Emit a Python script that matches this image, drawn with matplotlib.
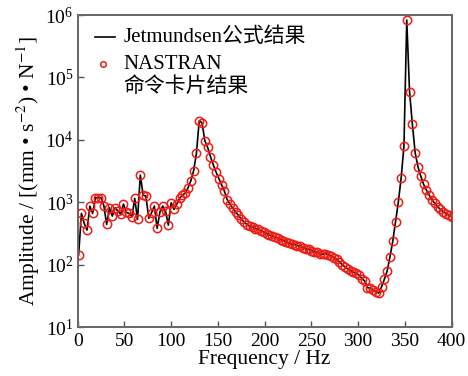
import matplotlib
matplotlib.use('Agg')
import matplotlib.pyplot as plt
import numpy as np

plt.rcParams['font.family'] = ['Liberation Serif', 'Noto Sans CJK SC']
plt.rcParams['mathtext.fontset'] = 'stix'

# frequency grid (Hz), 3 Hz step
freq = np.arange(1, 401, 3)

# amplitude, (mm*s^-2)/N
amp = [
    143, 663, 459, 359, 868, 663, 1180, 1180, 1180, 880,
    442, 817, 601, 817, 723, 647, 935, 689, 663, 586,
    1153, 532, 2730, 1303, 1256, 552, 679, 868, 382, 705,
    868, 723, 431, 982, 769, 935, 1153, 1303, 1400, 1700,
    2200, 3200, 6080, 20200, 18800, 9690, 7590, 5400, 4000, 3050,
    2400, 1900, 1500, 1100, 930, 800, 700, 615, 540, 480,
    440, 415, 398, 380, 368, 350, 335, 315, 300, 288,
    275, 265, 252, 243, 232, 222, 215, 210, 203, 196,
    188, 180, 176, 168, 162, 158, 150, 147, 150, 145,
    140, 130, 122, 111, 100, 92, 86, 80, 76, 73,
    68, 60, 55, 43, 42, 40, 37, 35, 44, 58,
    79, 132, 236, 482, 1007, 2444, 7960, 832000, 59000, 17900,
    6200, 3700, 2630, 1940, 1570, 1300, 1100, 960, 850, 770,
    710, 660, 620, 586,
]

red = '#f01c14'

fig = plt.figure(figsize=(4.68, 3.76), dpi=100)
ax = fig.add_axes([0.166, 0.130, 0.799, 0.830])

ax.plot(freq, amp, color='black', lw=1.2, zorder=2)
ax.plot(freq, amp, 'o', ms=6, mfc='none', mec=red, mew=1.1, zorder=3)

ax.set_yscale('log')
ax.set_xlim(0, 400)
ax.set_ylim(10, 1e6)
ax.set_xticks(np.arange(0, 401, 50))
ax.set_yticks([1e1, 1e2, 1e3, 1e4, 1e5, 1e6])
ax.yaxis.set_minor_locator(matplotlib.ticker.NullLocator())

ax.tick_params(direction='in', length=4, width=1.0, labelsize=14,
               color='#555555')
ax.tick_params(axis='x', pad=4)
ax.tick_params(axis='y', pad=3)
for s in ax.spines.values():
    s.set_color('#666666')
    s.set_linewidth(1.4)

ax.set_xlabel('Frequency / Hz', fontsize=15.5, labelpad=0)
ax.set_ylabel('Amplitude / [(mm • s$^{-2}$) • N$^{-1}$]', fontsize=15.5,
              labelpad=2)

# legend, placed by hand so the marker sits on the first line of its label
ax.plot([0.047, 0.100], [0.929, 0.929], color='black', lw=1.2,
        transform=ax.transAxes, clip_on=False)
ax.text(0.122, 0.929, 'Jetmundsen公式结果', fontsize=15, va='center',
        transform=ax.transAxes)
ax.plot([0.068], [0.843], 'o', ms=4, mfc='none', mec=red, mew=1.1,
        transform=ax.transAxes, clip_on=False)
ax.text(0.122, 0.840, 'NASTRAN', fontsize=15, va='center',
        transform=ax.transAxes)
ax.text(0.122, 0.768, '命令卡片结果', fontsize=15, va='center',
        transform=ax.transAxes)

fig.savefig('out.png', dpi=100)
